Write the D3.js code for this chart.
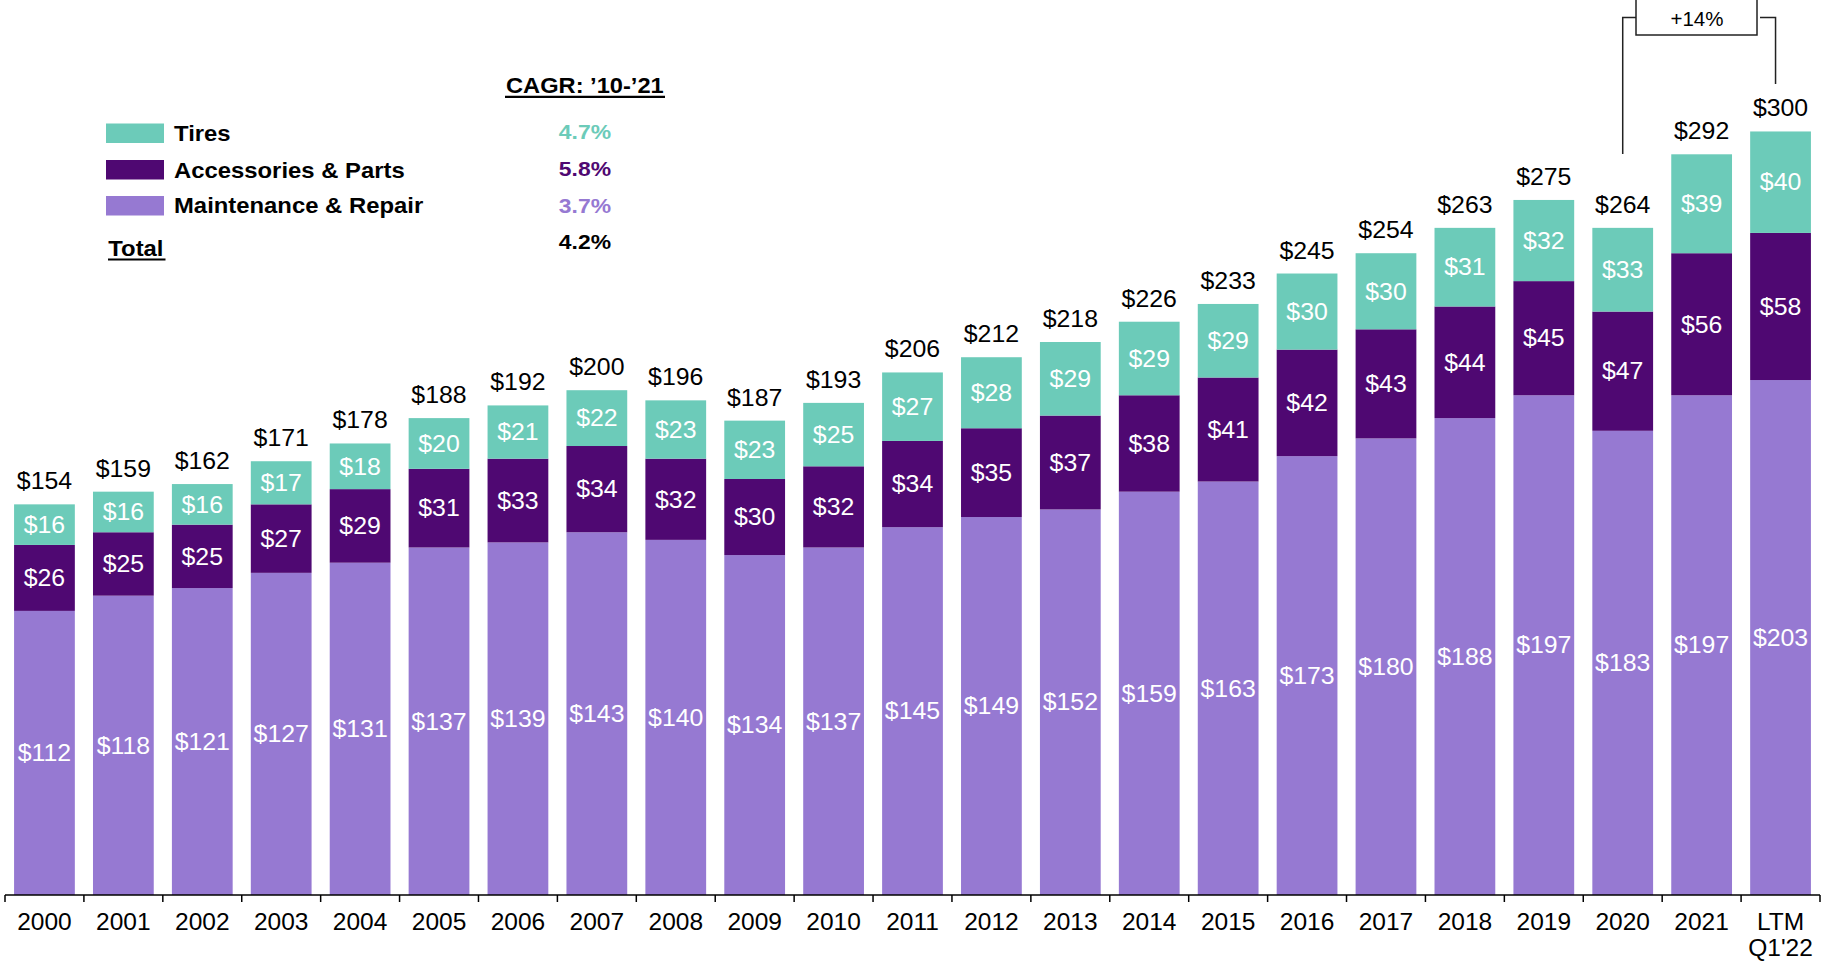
<!DOCTYPE html>
<html>
<head>
<meta charset="utf-8">
<script src="https://cdn.jsdelivr.net/npm/d3@7"></script>
<style>
  body { margin: 0; background: #fff; }
  svg { display: block; font-family: 'Liberation Sans', Arial, Helvetica, sans-serif; }
</style>
</head>
<body>
<script>
// Categories (x axis)
const years = ['2000', '2001', '2002', '2003', '2004', '2005', '2006', '2007', '2008', '2009', '2010',
    '2011', '2012', '2013', '2014', '2015', '2016', '2017', '2018', '2019', '2020', '2021', 'LTM\nQ1\'22'];

// Series values ($bn)
const maintenance = [112, 118, 121, 127, 131, 137, 139, 143, 140, 134, 137, 145, 149, 152, 159, 163, 173, 180, 188, 197, 183, 197, 203];
const accessories = [26, 25, 25, 27, 29, 31, 33, 34, 32, 30, 32, 34, 35, 37, 38, 41, 42, 43, 44, 45, 47, 56, 58];
const tires = [16, 16, 16, 17, 18, 20, 21, 22, 23, 23, 25, 27, 28, 29, 29, 29, 30, 30, 31, 32, 33, 39, 40];
const totals = [154, 159, 162, 171, 178, 188, 192, 200, 196, 187, 193, 206, 212, 218, 226, 233, 245, 254, 263, 275, 264, 292, 300];

// Legend / CAGR
const seriesNames = ['Tires', 'Accessories & Parts', 'Maintenance & Repair'];
const cagr = ['4.7%', '5.8%', '3.7%'];
const totalCagr = '4.2%';
const growthLabel = '+14%';

const colors = { tires: '#6ccbb9', acc: '#4f0872', maint: '#9679d2' };

const W = 1825, H = 966;
const svg = d3.select('body').append('svg').attr('width', W).attr('height', H);

// the original face is a touch wider than Liberation Sans
function stretch(k) {
    return (sel) => sel.each(function () {
        const w = this.getComputedTextLength();
        d3.select(this).attr('textLength', w * k).attr('lengthAdjust', 'spacingAndGlyphs');
    });
}
// anchor by hand, textLength and text-anchor don't mix well
function anchorAt(frac, xf) {
    return (sel) => sel.each(function (d, i) {
        const w = +d3.select(this).attr('textLength') || this.getComputedTextLength();
        d3.select(this).attr('x', xf(d, i) - w * frac);
    });
}

// scales
const x = d3.scaleBand().domain(years).range([5, 1820]).paddingInner(0.23).paddingOuter(0.115);
const y = d3.scaleLinear().domain([0, 300]).range([895, 134]);
const cx = (yr) => x(yr) + x.bandwidth() / 2;

// stack the series
const rows = years.map((yr, i) => ({ yr, maint: maintenance[i], acc: accessories[i], tires: tires[i] }));
const stack = d3.stack().keys(['maint', 'acc', 'tires'])(rows);

const layers = svg.append('g').selectAll('g').data(stack).join('g')
    .attr('fill', (d) => colors[d.key]);

layers.selectAll('rect').data((d) => d).join('rect')
    .attr('x', (d) => x(d.data.yr))
    .attr('width', x.bandwidth())
    .attr('y', (d) => y(d[1]))
    .attr('height', (d) => y(d[0]) - y(d[1]));

// segment value labels
layers.selectAll('text').data((d) => d).join('text')
    .attr('y', (d) => (y(d[0]) + y(d[1])) / 2)
    .attr('dy', '0.36em')
    .attr('fill', '#fff')
    .attr('font-size', 23)
    .text(function (d) {
        const key = d3.select(this.parentNode).datum().key;
        return '$' + d.data[key];
    })
    .call(stretch(1.08))
    .call(anchorAt(0.5, (d) => cx(d.data.yr)));

// total labels on top
const topLayer = stack[stack.length - 1];
svg.append('g').selectAll('text').data(topLayer).join('text')
    .attr('y', (d) => y(d[1]) - 15)
    .attr('font-size', 23)
    .attr('fill', '#000')
    .text((d, i) => '$' + totals[i])
    .call(stretch(1.08))
    .call(anchorAt(0.5, (d) => cx(d.data.yr)));

// x axis
const axis = svg.append('g');
axis.append('line')
    .attr('x1', x.range()[0]).attr('x2', x.range()[1])
    .attr('y1', 895).attr('y2', 895)
    .attr('stroke', '#000').attr('stroke-width', 1.5);
const step = x.step();
const edges = d3.range(years.length + 1).map((i) => x.range()[0] + i * step);
axis.selectAll('line.tick').data(edges).join('line')
    .attr('class', 'tick')
    .attr('x1', (d) => d).attr('x2', (d) => d)
    .attr('y1', 895).attr('y2', 902)
    .attr('stroke', '#000').attr('stroke-width', 1.5);
axis.selectAll('text').data(years).join('text')
    .attr('x', (d) => cx(d))
    .attr('y', 930)
    .attr('text-anchor', 'middle')
    .attr('font-size', 24.5)
    .attr('fill', '#000')
    .each(function (d) {
        d3.select(this).selectAll('tspan').data(d.split('\n')).join('tspan')
            .attr('x', cx(d))
            .attr('dy', (t, i) => (i === 0 ? 0 : 26))
            .text((t) => t);
    });

// legend
const legend = svg.append('g');
const legColors = [colors.tires, colors.acc, colors.maint];
const swatchY = [123.5, 160, 196];
const nameY = [141, 178.3, 212.7];
const pctY = [139.3, 176, 212.7];
legend.selectAll('rect').data(seriesNames).join('rect')
    .attr('x', 106).attr('y', (d, i) => swatchY[i])
    .attr('width', 58).attr('height', 19.5)
    .attr('fill', (d, i) => legColors[i]);
legend.selectAll('text.name').data(seriesNames).join('text')
    .attr('class', 'name')
    .attr('x', 174).attr('y', (d, i) => nameY[i])
    .attr('font-size', 22.5).attr('font-weight', 'bold')
    .text((d) => d)
    .call(stretch(1.06));

legend.selectAll('text.pct').data(cagr).join('text')
    .attr('class', 'pct')
    .attr('y', (d, i) => pctY[i])
    .attr('font-size', 21).attr('font-weight', 'bold')
    .attr('fill', (d, i) => legColors[i])
    .text((d) => d)
    .call(stretch(1.09))
    .call(anchorAt(1, () => 611));

legend.append('text')
    .attr('x', 108.3).attr('y', 255.7)
    .attr('font-size', 22.5).attr('font-weight', 'bold')
    .text('Total').call(stretch(1.06));
legend.append('line')
    .attr('x1', 108).attr('x2', 165.5).attr('y1', 259.5).attr('y2', 259.5)
    .attr('stroke', '#000').attr('stroke-width', 2.2);
legend.append('text')
    .attr('y', 249.3)
    .attr('font-size', 21).attr('font-weight', 'bold')
    .text(totalCagr)
    .call(stretch(1.09))
    .call(anchorAt(1, () => 611));

legend.append('text')
    .attr('x', 506).attr('y', 92.7)
    .attr('font-size', 21.5).attr('font-weight', 'bold')
    .text('CAGR: \u201910-\u201921').call(stretch(1.1));
legend.append('line')
    .attr('x1', 505).attr('x2', 665).attr('y1', 96.8).attr('y2', 96.8)
    .attr('stroke', '#000').attr('stroke-width', 2.2);

// growth bracket 2020 -> LTM
const cx20 = cx('2020');
const cxL = cx(years[years.length - 1]) - 5;
const bracket = svg.append('g').attr('fill', 'none').attr('stroke', '#222').attr('stroke-width', 1.5);
bracket.append('path').attr('d', `M${cx20},154 V17.5 H1636`);
bracket.append('path').attr('d', `M1760,17.5 H${cxL} V84`);
bracket.append('rect').attr('x', 1636).attr('y', -1).attr('width', 121).attr('height', 36);
svg.append('text')
    .attr('x', 1697).attr('y', 26)
    .attr('text-anchor', 'middle')
    .attr('font-size', 20.5)
    .text(growthLabel);
</script>
</body>
</html>
